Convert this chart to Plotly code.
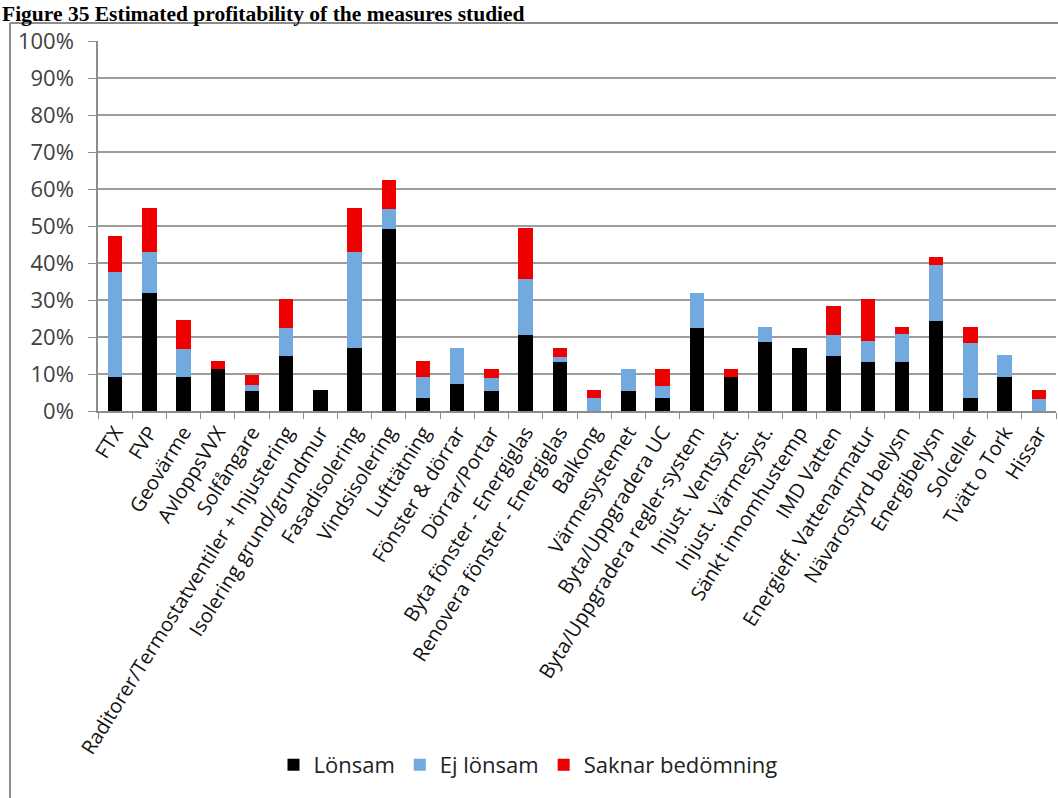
import plotly.graph_objects as go

# Measures studied (x categories)
categories = [
    "FTX", "FVP", "Geovärme", "AvloppsVVX", "Solfångare",
    "Raditorer/Termostatventiler + Injustering", "Isolering grund/grundmur",
    "Fasadisolering", "Vindsisolering", "Lufttätning", "Fönster & dörrar",
    "Dörrar/Portar", "Byta fönster - Energiglas", "Renovera fönster - Energiglas",
    "Balkong", "Värmesystemet", "Byta/Uppgradera UC",
    "Byta/Uppgradera regler-system", "Injust. Ventsyst.", "Injust. Värmesyst.",
    "Sänkt innomhustemp", "IMD Vatten", "Energieff. Vattenarmatur",
    "Nävarostyrd belysn", "Energibelysn", "Solceller", "Tvätt o Tork", "Hissar",
]

# Share of cases (%) per assessment
lonsam = [9.1, 32.0, 9.1, 11.4, 5.3, 14.9, 5.8, 16.9, 49.2, 3.6, 7.4, 5.5, 20.6, 13.2,
          0.0, 5.5, 3.6, 22.5, 9.1, 18.6, 16.9, 14.9, 13.2, 13.2, 24.4, 3.5, 9.1, 0.0]
ej_lonsam = [28.4, 11.1, 7.7, 0.0, 1.8, 7.5, 0.0, 26.2, 5.5, 5.5, 9.7, 3.5, 15.2, 1.4,
             3.5, 5.8, 3.2, 9.5, 0.0, 4.1, 0.0, 5.7, 5.6, 7.6, 15.0, 15.0, 6.0, 3.2]
saknar = [9.8, 11.8, 7.8, 2.0, 2.6, 7.8, 0.0, 11.8, 7.8, 4.3, 0.0, 2.4, 13.6, 2.5,
          2.3, 0.0, 4.6, 0.0, 2.3, 0.0, 0.0, 7.9, 11.4, 2.0, 2.1, 4.3, 0.0, 2.6]

y_tick_vals = list(range(0, 101, 10))
y_tick_text = [f"{v}%" for v in y_tick_vals]

series = [
    ("Lönsam", lonsam, "#000000"),
    ("Ej lönsam", ej_lonsam, "#72a9de"),
    ("Saknar bedömning", saknar, "#ee0000"),
]

fig = go.Figure()
for name, vals, color in series:
    fig.add_trace(go.Bar(
        x=categories, y=vals, name=name,
        marker=dict(color=color, line=dict(width=0)),
    ))

W, H = 1058, 798
L, R, T, B = 98, 2, 41, 387
pw, ph = W - L - R, H - T - B


def px_x(p):
    return (p - L) / pw


def px_y(p):
    return (H - B - p) / ph


text_font = "Open Sans, Lato, sans-serif"
frame_top = 23

fig.update_layout(
    width=W, height=H,
    margin=dict(l=L, r=R, t=T, b=B),
    barmode="stack",
    bargap=0.58,
    plot_bgcolor="white",
    paper_bgcolor="white",
    showlegend=True,
    legend=dict(
        orientation="h",
        x=px_x(528), xanchor="center",
        y=px_y(765), yanchor="middle",
        font=dict(family=text_font, size=22, color="#222222"),
        traceorder="normal",
        itemwidth=30,
    ),
    xaxis=dict(
        type="category",
        tickangle=-58,
        tickfont=dict(family=text_font, size=20, color="#111111"),
        showline=True, linecolor="#8c8c8c", linewidth=1.5,
        ticks="outside", ticklen=6, tickcolor="#8c8c8c",
        tickson="boundaries",
        showgrid=False,
        automargin=False,
    ),
    yaxis=dict(
        range=[0, 100],
        tickmode="array",
        tickvals=y_tick_vals,
        ticktext=y_tick_text,
        tickfont=dict(family=text_font, size=22, color="#404040"),
        ticklabelstandoff=10,
        showline=True, linecolor="#8c8c8c", linewidth=1.5,
        ticks="outside", ticklen=8, tickcolor="#8c8c8c",
        showgrid=True, gridcolor="#9c9c9c", gridwidth=1.5,
        zeroline=False,
        automargin=False,
    ),
    shapes=[
        # chart frame: left and top edges
        dict(type="line", xref="paper", yref="paper",
             x0=px_x(10), x1=px_x(10), y0=px_y(frame_top), y1=px_y(800),
             line=dict(color="#8c8c8c", width=2)),
        dict(type="line", xref="paper", yref="paper",
             x0=px_x(10), x1=px_x(1060), y0=px_y(frame_top), y1=px_y(frame_top),
             line=dict(color="#8c8c8c", width=2)),
    ],
    annotations=[
        dict(text="<b>Figure 35 Estimated profitability of the measures studied</b>",
             xref="paper", yref="paper",
             x=px_x(0), xanchor="left",
             y=px_y(0), yanchor="top",
             showarrow=False,
             font=dict(family="Liberation Serif, Times New Roman, serif",
                       size=21.5, color="#000000")),
    ],
)

fig.write_html("out.html")
